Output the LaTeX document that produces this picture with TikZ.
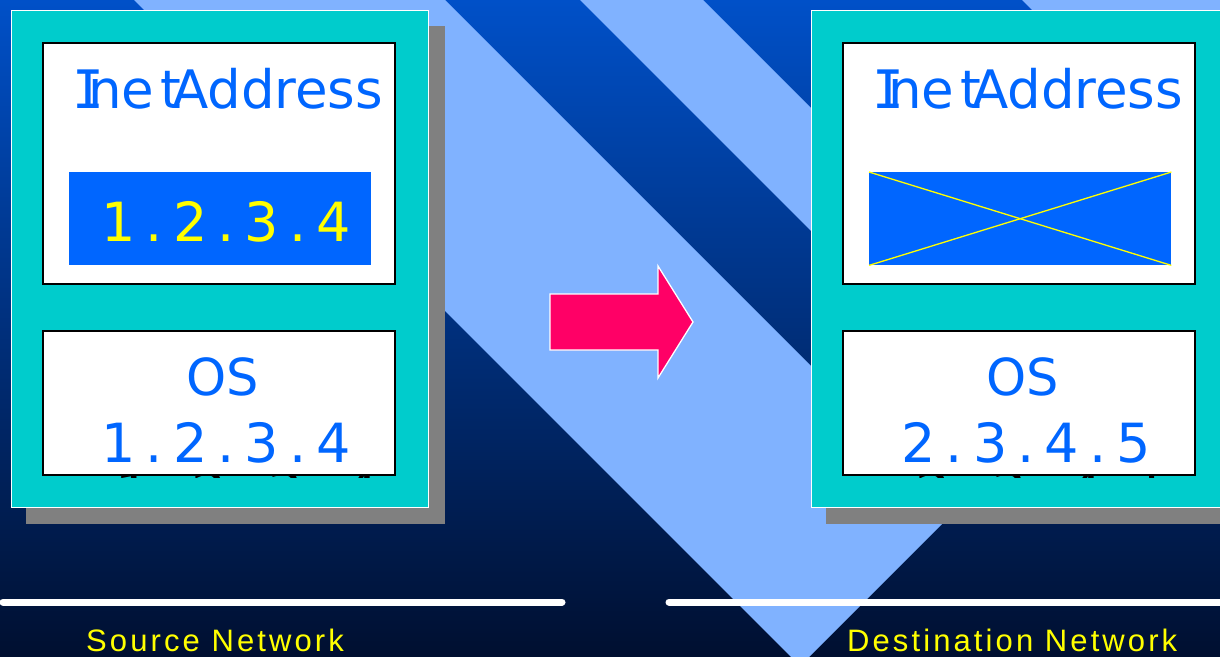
\documentclass[tikz,border=0pt]{standalone}
\usepackage{fontspec}
\newfontfamily\boxfont{DejaVu Sans}
\newfontfamily\barfont{DejaVu Sans Mono}
\newfontfamily\capfont{Liberation Sans}[LetterSpace=10]

\definecolor{bgtop}{HTML}{0050C8}
\definecolor{bgmid}{HTML}{00307C}
\definecolor{bgbot}{HTML}{000F30}
\definecolor{stripe}{HTML}{80B2FF}
\definecolor{panelcyan}{HTML}{00CCCC}
\definecolor{shadowgray}{HTML}{808080}
\definecolor{ipblue}{HTML}{0066FF}
\definecolor{arrowpink}{HTML}{FF0066}
\definecolor{labelyellow}{HTML}{FFFF00}

% one character in a fixed-pitch cell
\newcommand\pch[1]{\makebox[36pt][c]{#1}}
\newcommand\wpch[1]{\makebox[38pt][c]{#1}}
% the class name, with its squeezed letters
\newcommand\inetname{{\barfont I}\kern-16pt ne\kern6pt t\kern-9pt Address}

\tikzset{
  shadowbox/.style={fill=shadowgray, draw=none, inner sep=0pt, anchor=north west},
  panel/.style={fill=panelcyan, draw=white, line width=1.2pt, inner sep=0pt, anchor=north west},
  infobox/.style={fill=white, draw=black, line width=1.5pt, inner sep=0pt, anchor=north west},
  ipfield/.style={fill=ipblue, draw=none, inner sep=0pt, anchor=north west},
  nametext/.style={font=\boxfont\fontsize{53}{60}\selectfont, text=ipblue, inner sep=0pt, anchor=base west},
  iptext/.style={font=\boxfont\fontsize{54}{60}\selectfont, text=labelyellow, inner sep=0pt, anchor=base west},
  ostext/.style={font=\boxfont\fontsize{51}{60}\selectfont, text=ipblue, inner sep=0pt, anchor=base},
  osiptext/.style={font=\boxfont\fontsize{54}{60}\selectfont, text=ipblue, inner sep=0pt, anchor=base west},
  hiddentext/.style={font=\boxfont\fontsize{56}{60}\selectfont, text=black, inner sep=0pt, anchor=north west},
  netlabel/.style={font=\capfont\fontsize{31}{36}\selectfont, text=labelyellow, inner sep=0pt, anchor=base west},
  netline/.style={white, line width=7pt, line cap=round},
  cross/.style={labelyellow, line width=1.3pt},
  moveto/.style={fill=arrowpink, draw=white, line width=1.3pt, line join=miter}
}

\begin{document}
\begin{tikzpicture}[x=1pt, y=-1pt]
\useasboundingbox (0,0) rectangle (1220,656);
\clip (0,0) rectangle (1220,656);

% backdrop
\shade[top color=bgtop, middle color=bgmid, bottom color=bgbot] (0,0) rectangle (1220,656);
\fill[stripe] (134,0) -- (445,0) -- (955.5,510.5) -- (800,666) -- cycle;
\fill[stripe] (580,0) -- (703,0) -- (1084.5,381.5) -- (1023,443) -- cycle;
\fill[stripe] (1022,0) -- (1300,0) -- (1300,166) -- (1244,222) -- cycle;

% source host
\node[shadowbox, minimum width=419pt, minimum height=498pt] (srcshadow) at (26,26) {};
\node[panel, minimum width=417pt, minimum height=497pt] (srcpanel) at (11,10) {};
\begin{scope}
  \clip (40,474.8) rectangle (396,477.5);
  \node[hiddentext] (srchidden) at (114,471) {\wpch1\wpch.\wpch2\wpch.\wpch3\wpch.\wpch4};
\end{scope}
\node[infobox, minimum width=352pt, minimum height=241pt] (srcaddr) at (42,42) {};
\node[ipfield, minimum width=302pt, minimum height=93pt] (srcip) at (69,172) {};
\node[nametext] (srcname) at (72,108) {\inetname};
\node[iptext] (srcipval) at (100,241) {\pch1\pch.\pch2\pch.\pch3\pch.\pch4};
\node[infobox, minimum width=352pt, minimum height=144pt] (srcos) at (42,330) {};
\node[ostext] (srcoslabel) at (223,395) {OS};
\node[osiptext] (srcosval) at (100,462) {\pch1\pch.\pch2\pch.\pch3\pch.\pch4};

% destination host
\node[shadowbox, minimum width=419pt, minimum height=498pt] (dstshadow) at (826,26) {};
\node[panel, minimum width=417pt, minimum height=497pt] (dstpanel) at (811,10) {};
\begin{scope}
  \clip (840,474.8) rectangle (1196,477.5);
  \node[hiddentext] (dsthidden) at (914,471) {\wpch2\wpch.\wpch3\wpch.\wpch4\wpch.\wpch5};
\end{scope}
\node[infobox, minimum width=352pt, minimum height=241pt] (dstaddr) at (842,42) {};
\node[ipfield, minimum width=302pt, minimum height=93pt] (dstip) at (869,172) {};
\draw[cross] (dstip.north west) -- (dstip.south east);
\draw[cross] (dstip.south west) -- (dstip.north east);
\node[nametext] (dstname) at (872,108) {\inetname};
\node[infobox, minimum width=352pt, minimum height=144pt] (dstos) at (842,330) {};
\node[ostext] (dstoslabel) at (1023,395) {OS};
\node[osiptext] (dstosval) at (900,462) {\pch2\pch.\pch3\pch.\pch4\pch.\pch5};

% migration arrow
\draw[moveto] (550,294) -- (658,294) -- (658,266) -- (693,322) -- (658,378)
  -- (658,350) -- (550,350) -- cycle;

% network segments
\coordinate (srcnetA) at (3,602);
\coordinate (srcnetB) at (562,602);
\coordinate (dstnetA) at (669,602);
\coordinate (dstnetB) at (1230,602);
\draw[netline] (srcnetA) -- (srcnetB);
\draw[netline] (dstnetA) -- (dstnetB);
\node[netlabel] (srcnet) at (86,651) {Source Network};
\node[netlabel] (dstnet) at (847,651) {Destination Network};
\end{tikzpicture}
\end{document}
